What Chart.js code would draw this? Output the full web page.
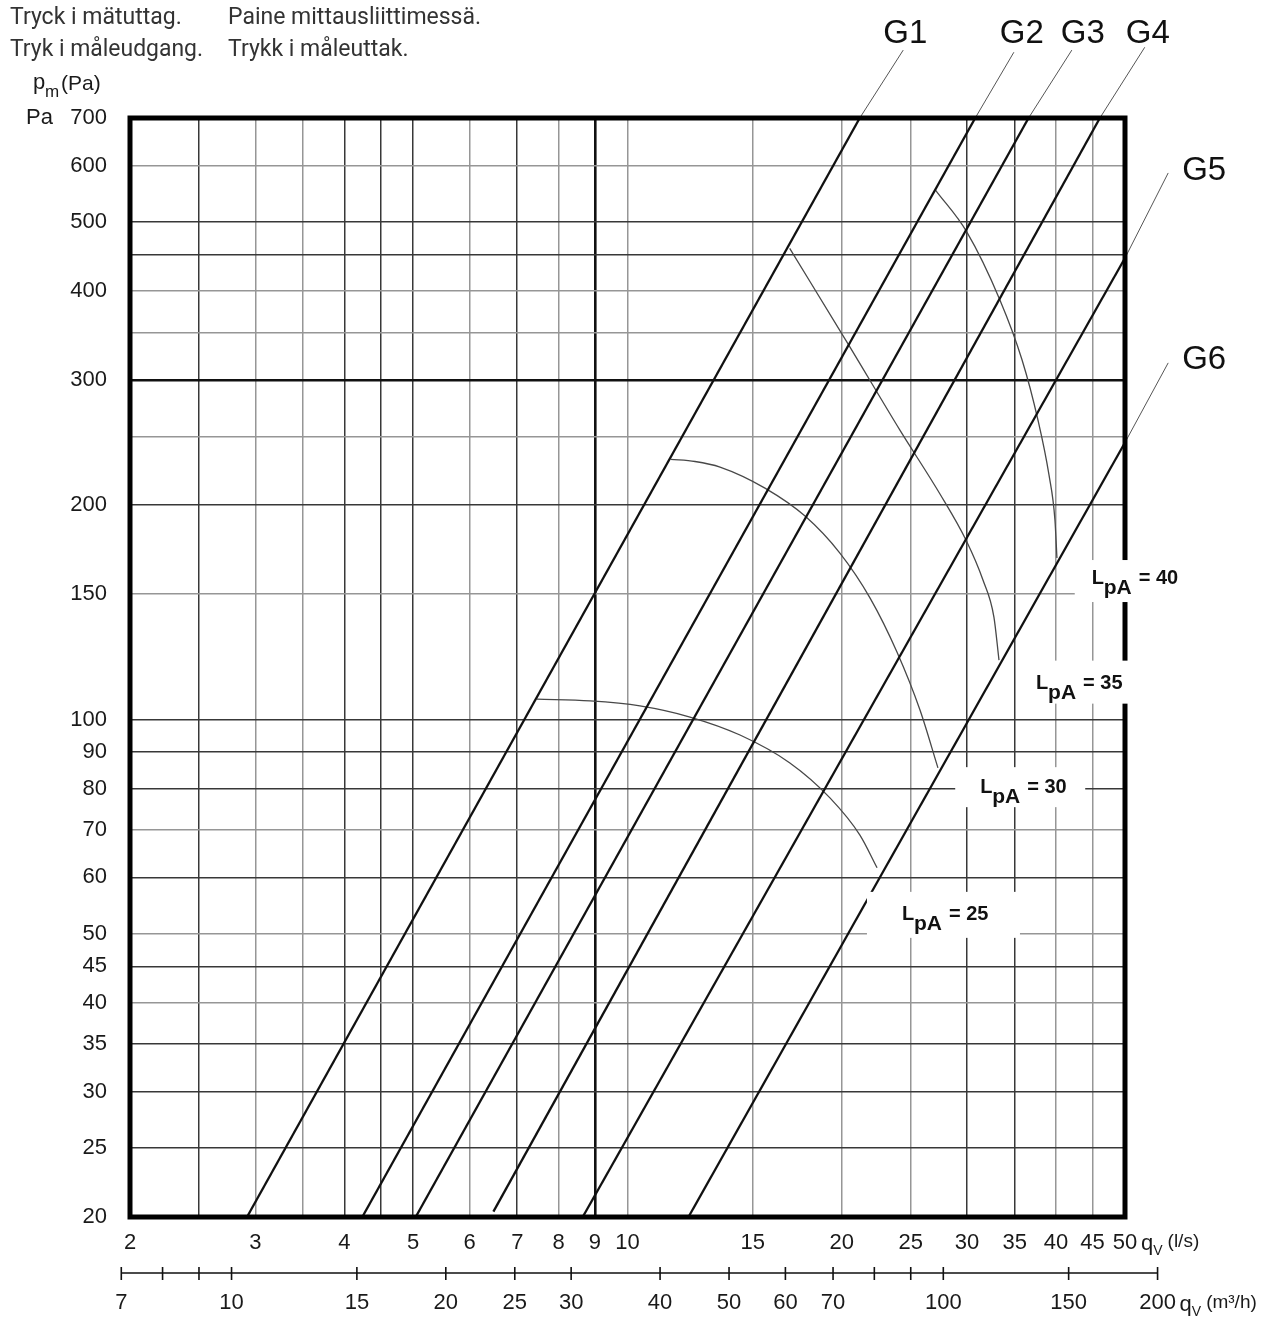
<!DOCTYPE html>
<html>
<head>
<meta charset="utf-8">
<script src="https://cdn.jsdelivr.net/npm/chart.js@4.4.1/dist/chart.umd.min.js"></script>
<style>
  html, body { margin: 0; padding: 0; background: #fff; }
  canvas { display: block; }
</style>
</head>
<body>
<canvas id="chart" width="1273" height="1323"></canvas>
<script>
// q_V (l/s) on x, p_m (Pa) on y, both logarithmic
const qTicks = [2, 2.5, 3, 3.5, 4, 4.5, 5, 6, 7, 8, 9, 10, 15, 20, 25, 30, 35, 40, 45, 50];
const qLabels = [2, 3, 4, 5, 6, 7, 8, 9, 10, 15, 20, 25, 30, 35, 40, 45, 50];
const pTicks = [20, 25, 30, 35, 40, 45, 50, 60, 70, 80, 90, 100, 150, 200, 250, 300, 350, 400, 450, 500, 600, 700];
const pLabels = [20, 25, 30, 35, 40, 45, 50, 60, 70, 80, 90, 100, 150, 200, 300, 400, 500, 600, 700];
// second flow axis in m3/h
const m3hTicks = [7, 8, 9, 10, 15, 20, 25, 30, 40, 50, 60, 70, 80, 90, 100, 150, 200];
const m3hLabels = [7, 10, 15, 20, 25, 30, 40, 50, 60, 70, 100, 150, 200];

// damper curves G1..G6, [q, p] where they enter and leave the grid
const gNames = ['G1', 'G2', 'G3', 'G4', 'G5', 'G6'];
const gStart = [[2.92, 20], [4.24, 20], [5.04, 20], [6.48, 20.35], [8.65, 20], [12.18, 20]];
const gEnd = [[21.2, 700], [30.8, 700], [36.6, 700], [46.1, 700], [50, 445], [50, 245]];
const gLeaderEnd = [[24.4, 872], [34.9, 866], [42.1, 872], [53.3, 880], [57.5, 586], [57.5, 317]];

// sound level curves L_pA
const lpaNames = ['25', '30', '35', '40'];
const lpa25 = [[7.46, 106.8], [8.86, 106.2], [10.41, 104.5], [12.24, 100.8], [14.39, 95.1], [16.91, 86.9], [19.25, 77.6], [21.21, 68.8], [22.42, 61.9]];
const lpa30 = [[11.5, 232], [12.44, 230.4], [13.49, 226.3], [15.6, 211.4], [17.76, 193.1], [19.88, 171.3], [21.92, 148.1], [23.91, 124.4], [25.76, 103.1], [27.3, 85.5]];
const lpa35 = [[16.9, 459], [20.54, 333.6], [24.14, 255], [27.48, 207.4], [29.89, 178.7], [31.58, 157], [32.72, 139.3], [33.26, 121.2]];
const lpa40 = [[27.1, 554], [29.98, 484], [33.36, 388.6], [35.84, 320], [37.73, 263.5], [39.1, 220.6], [39.86, 190.7], [40.12, 168.6]];

const FONT = '"Liberation Sans", Arial, sans-serif';
const darkQ = [2.5, 4, 4.5, 5, 7, 30, 35];
const darkP = [25, 30, 35, 45, 60, 80, 90, 100, 200, 450, 500];

function pts(arr) {
    return arr.map(p => ({ x: p[0], y: p[1] }));
}

function gridColor(val, dark, heavy) {
    if (val == heavy) return '#111';
    return dark.includes(val) ? '#383838' : '#969696';
}

let datasets = [];
for (let i = 0; i < gNames.length; i++) {
    datasets.push({
        label: gNames[i],
        data: pts([gStart[i], gEnd[i]]),
        borderColor: '#111',
        borderWidth: 2.3
    });
    // thin leader from the curve to its name
    datasets.push({
        label: gNames[i] + ' leader',
        data: pts([gEnd[i], gLeaderEnd[i]]),
        borderColor: '#555',
        borderWidth: 1,
        clip: false
    });
}
[lpa25, lpa30, lpa35, lpa40].forEach((c, i) => {
    datasets.push({
        label: 'LpA ' + lpaNames[i],
        data: pts(c),
        borderColor: '#484848',
        borderWidth: 1.3,
        cubicInterpolationMode: 'monotone'
    });
});

const paper = {
    id: 'paper',
    afterDatasetsDraw(chart) {
        const { ctx, chartArea: a } = chart;
        ctx.save();
        ctx.strokeStyle = '#000';
        ctx.lineWidth = 5;
        ctx.strokeRect(a.left, a.top, a.right - a.left, a.bottom - a.top);
        ctx.restore();
    },
    afterDraw(chart) {
        const { ctx, chartArea: a } = chart;
        const xs = chart.scales.x, ys = chart.scales.y;
        ctx.save();

        // L_pA tags on white patches
        const tags = [
            { v: '40', q: 44.9, p: 155, box: [-17, 103, -24, 18] },
            { v: '35', q: 37.5, p: 110.5, box: [-11, 104, -28, 15] },
            { v: '30', q: 31.3, p: 78.8, box: [-25, 105, -26, 14] },
            { v: '25', q: 24.3, p: 52.3, box: [-35, 118, -28, 18] }
        ];
        tags.forEach(t => {
            const x = xs.getPixelForValue(t.q), y = ys.getPixelForValue(t.p);
            ctx.fillStyle = '#fff';
            ctx.fillRect(x + t.box[0], y + t.box[2], t.box[1] - t.box[0], t.box[3] - t.box[2]);
            ctx.fillStyle = '#111';
            ctx.textAlign = 'left';
            ctx.textBaseline = 'alphabetic';
            ctx.font = 'bold 20px ' + FONT;
            ctx.fillText('L', x, y);
            ctx.font = 'bold 21px ' + FONT;
            ctx.fillText('pA', x + 12, y + 10);
            ctx.font = 'bold 20px ' + FONT;
            ctx.fillText('= ' + t.v, x + 47, y);
        });

        // G names at the end of the leaders
        const gOff = [[2, -7], [8, -9], [11, -7], [3, -4], [36, 7], [36, 6]];
        ctx.font = '33px ' + FONT;
        ctx.fillStyle = '#111';
        ctx.textAlign = 'center';
        gNames.forEach((n, i) => {
            const x = xs.getPixelForValue(gLeaderEnd[i][0]);
            const y = ys.getPixelForValue(gLeaderEnd[i][1]);
            ctx.fillText(n, x + gOff[i][0], y + gOff[i][1]);
        });

        // second flow axis, m3/h = 3.6 * l/s
        const yAx = a.bottom + 56;
        ctx.strokeStyle = '#111';
        ctx.lineWidth = 1.6;
        ctx.beginPath();
        ctx.moveTo(xs.getPixelForValue(m3hTicks[0] / 3.6), yAx);
        ctx.lineTo(xs.getPixelForValue(m3hTicks[m3hTicks.length - 1] / 3.6), yAx);
        m3hTicks.forEach(v => {
            const x = xs.getPixelForValue(v / 3.6);
            ctx.moveTo(x, yAx - 6);
            ctx.lineTo(x, yAx + 7);
        });
        ctx.stroke();
        ctx.font = '22px ' + FONT;
        ctx.fillStyle = '#1a1a1a';
        ctx.textAlign = 'center';
        ctx.textBaseline = 'middle';
        m3hLabels.forEach(v => {
            ctx.fillText(String(v), xs.getPixelForValue(v / 3.6), yAx + 30);
        });

        // unit names
        ctx.textAlign = 'left';
        ctx.textBaseline = 'alphabetic';
        const unit = (x, y, sub, tail) => {
            ctx.font = '22px ' + FONT;
            ctx.fillText('q', x, y);
            let w = ctx.measureText('q').width;
            ctx.font = '14px ' + FONT;
            ctx.fillText(sub, x + w, y + 5);
            w += ctx.measureText(sub).width + 5;
            ctx.font = '19px ' + FONT;
            ctx.fillText(tail, x + w, y - 3);
        };
        unit(xs.right + 16, a.bottom + 33, 'V', '(l/s)');
        unit(xs.getPixelForValue(200 / 3.6) + 22, yAx + 38, 'V', '(m³/h)');

        // pressure label
        ctx.font = '22px ' + FONT;
        ctx.fillText('p', 33, 89);
        ctx.font = '17px ' + FONT;
        ctx.fillText('m', 45, 97);
        ctx.font = '21px ' + FONT;
        ctx.fillText('(Pa)', 61, 90);
        ctx.textBaseline = 'middle';
        ctx.font = '22px ' + FONT;
        ctx.fillText('Pa', 26, ys.getPixelForValue(700));

        // header in four languages
        ctx.textBaseline = 'alphabetic';
        ctx.fillStyle = '#333';
        ctx.font = '23px "Liberation Sans Narrow", Roboto, sans-serif';
        ctx.fillText('Tryck i mätuttag.', 10, 24, 173);
        ctx.fillText('Paine mittausliittimessä.', 228, 24, 255);
        ctx.fillText('Tryk i måleudgang.', 10, 56, 193);
        ctx.fillText('Trykk i måleuttak.', 228, 56, 183);
        ctx.restore();
    }
};

const chart = new Chart(document.getElementById('chart'), {
    type: 'line',
    data: { datasets: datasets },
    options: {
        responsive: false,
        animation: false,
        events: [],
        elements: { point: { radius: 0 }, line: { tension: 0 } },
        layout: { padding: { left: 0, top: 118, right: 148, bottom: 0 } },
        plugins: { legend: { display: false }, tooltip: { enabled: false } },
        scales: {
            x: {
                type: 'logarithmic',
                position: 'bottom',
                min: 2,
                max: 50,
                afterBuildTicks: s => { s.ticks = qTicks.map(v => ({ value: v })); },
                afterFit: s => { s.height = 106; },
                border: { display: false },
                grid: {
                    drawTicks: false,
                    color: c => gridColor(c.tick ? c.tick.value : 0, darkQ, 9),
                    lineWidth: c => (c.tick && c.tick.value == 9) ? 2.6 : 1.5
                },
                ticks: {
                    autoSkip: false,
                    maxRotation: 0,
                    padding: 13,
                    color: '#1a1a1a',
                    font: { family: FONT, size: 22 },
                    callback: v => qLabels.includes(v) ? String(v) : ''
                }
            },
            y: {
                type: 'logarithmic',
                position: 'left',
                min: 20,
                max: 700,
                afterBuildTicks: s => { s.ticks = pTicks.map(v => ({ value: v })); },
                afterFit: s => { s.width = 130; },
                border: { display: false },
                grid: {
                    drawTicks: false,
                    color: c => gridColor(c.tick ? c.tick.value : 0, darkP, 300),
                    lineWidth: c => (c.tick && c.tick.value == 300) ? 2.6 : 1.5
                },
                ticks: {
                    autoSkip: false,
                    padding: 23,
                    color: '#1a1a1a',
                    font: { family: FONT, size: 22 },
                    callback: v => pLabels.includes(v) ? String(v) : ''
                }
            }
        }
    },
    plugins: [paper]
});
</script>
</body>
</html>
